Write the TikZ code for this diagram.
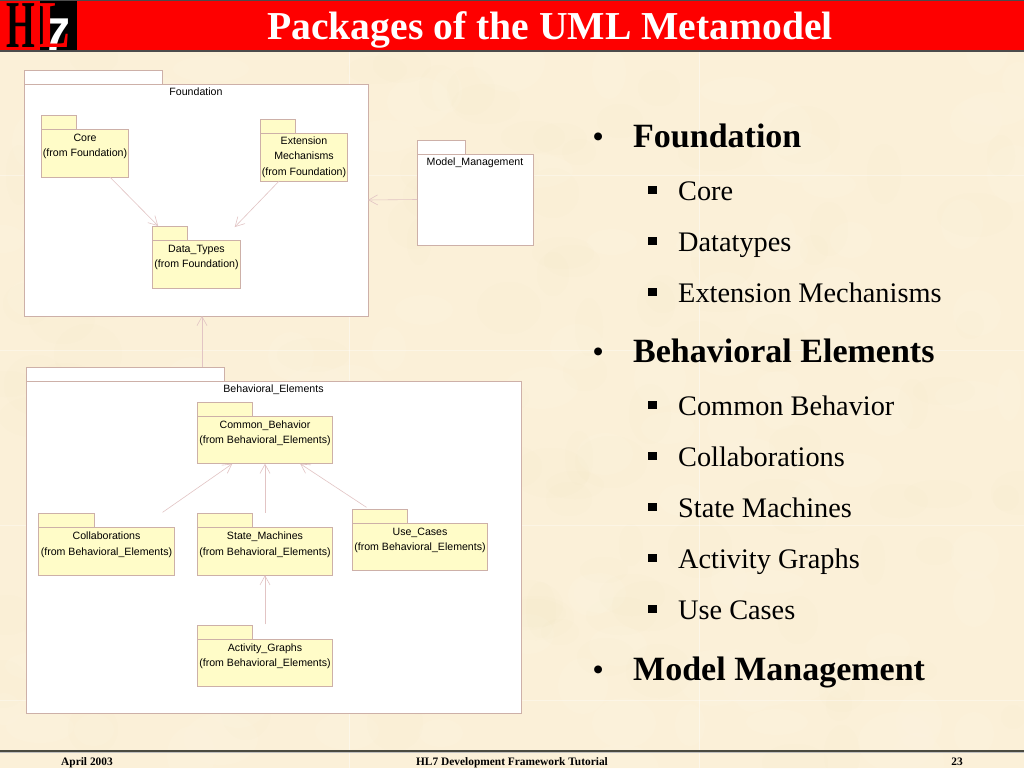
\documentclass[tikz,border=0pt]{standalone}
\usepackage{fontspec}
\setmainfont{Liberation Serif}
\newfontfamily\umlfont{Liberation Sans}
\usetikzlibrary{arrows.meta,positioning}
\definecolor{Parch}{HTML}{FBF0D8}
\definecolor{ParchD}{HTML}{F3E0B8}
\definecolor{ParchL}{HTML}{FFF9EA}
\definecolor{Edge}{HTML}{CDB0A8}
\definecolor{Dep}{HTML}{E2C4C4}
\definecolor{Pale}{HTML}{FFFCC8}
\definecolor{Bar}{HTML}{FE0000}
\definecolor{Rule}{HTML}{4A4A40}

\begin{document}
\begin{tikzpicture}[x=1pt,y=-1pt,
    bx/.style={draw=Edge,line width=.6pt,inner sep=0pt,outer sep=0pt,align=center,text=black,font=\umlfont\fontsize{10.6}{15.5}\selectfont},
    big/.style={bx,fill=white},
    pf/.style={bx,fill=Pale,minimum width=87.5pt,minimum height=48pt},
    pb/.style={bx,fill=Pale,minimum width=135.5pt,minimum height=47.5pt},
    tf/.style={bx,fill=Pale,minimum width=35pt,minimum height=14pt},
    tb/.style={bx,fill=Pale,minimum width=55.5pt,minimum height=14pt},
    bigcap/.style={font=\umlfont\fontsize{10.6}{13}\selectfont,inner sep=0pt,text=black},
    a/.style={draw=Dep,line width=.6pt,-{Straight Barb[length=9pt,width=10pt]}},
    h1/.style={anchor=base west,inner sep=0pt,font=\bfseries\fontsize{34}{36}\selectfont},
    h2/.style={anchor=base west,inner sep=0pt,font=\fontsize{28.3}{30}\selectfont},
    foot/.style={inner sep=0pt,anchor=base,font=\bfseries\fontsize{11.4}{13}\selectfont}]
    \useasboundingbox (0,0) rectangle (1024,768);
    \fill[Parch] (0,0) rectangle (1024,768);
    \pgfmathsetseed{23}
    \foreach \i in {1,...,260}{
      \pgfmathsetmacro{\bxa}{random(0,1024)}
      \pgfmathsetmacro{\bya}{random(50,768)}
      \pgfmathsetmacro{\bra}{random(12,38)}
      \pgfmathsetmacro{\brb}{random(12,30)}
      \ifodd\i \fill[ParchD,fill opacity=.05] (\bxa,\bya) ellipse [x radius=\bra,y radius=\brb];
      \else \fill[ParchL,fill opacity=.12] (\bxa,\bya) ellipse [x radius=\bra,y radius=\brb]; \fi
    }
    \foreach \sx in {349,699}{\draw[white,opacity=.45,line width=.7pt] (\sx,52) -- (\sx,768);}
    \foreach \sy in {175,350,525,700}{\draw[white,opacity=.35,line width=.7pt] (0,\sy) -- (1024,\sy);}

    \fill[Bar] (0,0) rectangle (1024,50);
    \fill[black] (40,1) rectangle (77,51);
    \draw[black!70,line width=1.5pt] (0,.5) -- (1024,.5) (0,51) -- (1024,51);
    \node[inner sep=0pt,text=black,xscale=.74,yscale=1.34,font=\bfseries\fontsize{50}{51}\selectfont,anchor=base] (logoh) at (21,48) {H};
    \node[inner sep=0pt,text=white,xscale=1.1,font=\umlfont\bfseries\fontsize{46}{46}\selectfont,anchor=base] (logos) at (57,50) {7};
    \node[inner sep=0pt,text=Bar,xscale=.95,yscale=1.34,font=\bfseries\fontsize{50}{51}\selectfont,anchor=base] (logol) at (54,48) {L};
    \node[inner sep=0pt,text=white,font=\bfseries\fontsize{39.6}{42}\selectfont,anchor=base] (title) at (550,40) {Packages of the UML Metamodel};

    \node[big,minimum width=344pt,minimum height=232pt] (fnd) at (196,200) {};
    \node[big,minimum width=138pt,minimum height=14pt,above right=0pt of fnd.north west] (fndtab) {};
    \node[bigcap,below=4pt of fnd.north] (fndcap) {Foundation};
    \node[big,minimum width=116pt,minimum height=91pt] (mm) at (475,199.5) {};
    \node[big,minimum width=48pt,minimum height=14pt,above right=0pt of mm.north west] (mmtab) {};
    \node[bigcap,below=4pt of mm.north] (mmcap) {Model\_Management};
    \node[big,minimum width=495pt,minimum height=332pt] (beh) at (273.5,547) {};
    \node[big,minimum width=198pt,minimum height=14pt,above right=0pt of beh.north west] (behtab) {};
    \node[bigcap,below=4pt of beh.north] (behcap) {Behavioral\_Elements};

    \node[pf] (core) at (85,153) {Core\\(from Foundation)\\~};
    \node[tf,above right=0pt of core.north west] (coretab) {};
    \node[pf] (ext) at (304,157) {Extension\\Mechanisms\\(from Foundation)};
    \node[tf,above right=0pt of ext.north west] (exttab) {};
    \node[pf] (dtypes) at (196.5,264) {Data\_Types\\(from Foundation)\\~};
    \node[tf,above right=0pt of dtypes.north west] (dtypestab) {};

    \node[pb] (common) at (265,440) {Common\_Behavior\\(from Behavioral\_Elements)\\~};
    \node[tb,above right=0pt of common.north west] (commontab) {};
    \node[pb] (collab) at (106.5,551.5) {Collaborations\\(from Behavioral\_Elements)\\~};
    \node[tb,above right=0pt of collab.north west] (collabtab) {};
    \node[pb] (state) at (265,551.5) {State\_Machines\\(from Behavioral\_Elements)\\~};
    \node[tb,above right=0pt of state.north west] (statetab) {};
    \node[pb] (usec) at (420,547) {Use\_Cases\\(from Behavioral\_Elements)\\~};
    \node[tb,above right=0pt of usec.north west] (usectab) {};
    \node[pb] (activity) at (265,663) {Activity\_Graphs\\(from Behavioral\_Elements)\\~};
    \node[tb,above right=0pt of activity.north west] (activitytab) {};

    \draw[a] (core.-44) -- (dtypestab.150);
    \draw[a,shorten >=18pt] (ext.224) -- (dtypes.43);
    \draw[a] (mm.west) -- (fnd.east);
    \draw[a] ([xshift=6pt]fnd.south |- behtab.north) -- ([xshift=6pt]fnd.south);
    \draw[a,shorten <=27pt] (collab.35) -- (common.216);
    \draw[a,shorten <=15pt] (state.north) -- (common.south);
    \draw[a,shorten <=29pt] (usec.141) -- (common.-34.4);
    \draw[a,shorten <=15pt] (activity.north) -- (state.south);

    \foreach \n/\y/\t in {a/147/Foundation,b/362/Behavioral Elements,c/680/Model Management}{
      \node[h1] (h\n) at (633,\y) {\t};
      \node[h1,font=\bfseries\fontsize{29}{30}\selectfont] (dot\n) at (593,\y-1) {•};
    }
    \foreach \n/\y/\t in {a/200/Core,b/251/Datatypes,c/302/Extension Mechanisms,d/415/Common Behavior,e/466/Collaborations,f/517/State Machines,g/568/Activity Graphs,h/619/Use Cases}{
      \node[h2] (s\n) at (678,\y) {\t};
      \node[h2] (sq\n) at (648,\y-6) {\rule{8.5pt}{8.5pt}};
    }

    \fill[Rule] (0,750) rectangle (1024,752);
    \fill[black!25] (0,752) rectangle (1024,753);
    \node[foot] (fdate) at (87,765) {April 2003};
    \node[foot] (fname) at (512,765) {HL7 Development Framework Tutorial};
    \node[foot] (fpage) at (957,765) {23};
  \end{tikzpicture}
\end{document}
